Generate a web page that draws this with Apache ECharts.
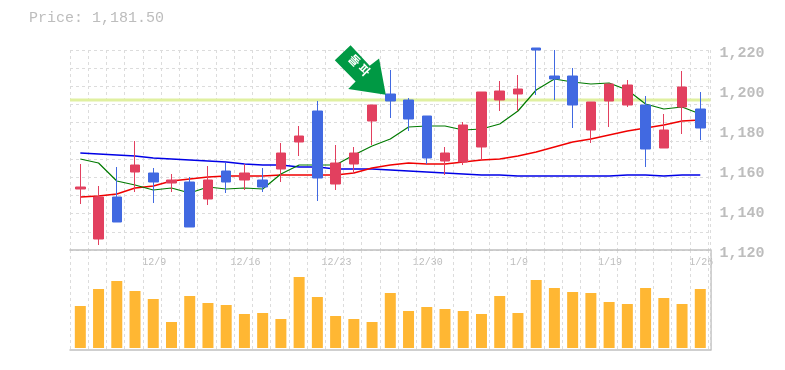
<!DOCTYPE html>
<html><head><meta charset="utf-8">
<style>html,body{margin:0;padding:0;background:#fff}#c{width:785px;height:370px}</style>
<script src="https://cdn.jsdelivr.net/npm/echarts@6/dist/echarts.min.js"></script>
</head><body><div id="c"></div>
<script>
const priceText = 'Price: 1,181.50';
const dateLabels = ['','','','','12/9','','','','','12/16','','','','','12/23','','','','','12/30','','','','','1/9','','','','','1/19','','','','','1/26'];
const priceTicks = [1120,1140,1160,1180,1200,1220];
// open, close, low, high
const candles = [
[1152,1153,1144.5,1164.5],[1127,1148,1124,1153.5],[1148,1135.5,1135.5,1163],[1160.5,1164,1150.5,1176],
[1160,1155.5,1145,1162.5],[1155,1156.5,1150.5,1159.5],[1155.5,1133,1133,1158],[1147,1156.5,1144,1163.5],
[1161,1155.5,1150,1165],[1156.5,1160,1151.5,1164.5],[1156.5,1153,1150.5,1162.5],[1162,1170,1155.5,1175],
[1175.5,1178.5,1168.5,1183.5],[1191,1157.5,1146,1196],[1154.5,1165,1151.5,1174],[1164.5,1170,1159.5,1173],
[1186,1194,1174,1194],[1199.5,1196,1187.5,1211.5],[1196.5,1187,1181,1197.5],[1188.5,1167.5,1164.5,1188.5],
[1166,1170,1159,1173],[1165.5,1184,1164,1185.5],[1173,1200.5,1166.5,1200.5],[1196.5,1201,1191,1206],
[1199.5,1202,1191,1209],[1222.5,1221.5,1199,1222.5],[1208.5,1207,1196.5,1221.5],[1208.5,1194,1182.5,1212.5],
[1181.5,1195.5,1175,1195.5],[1196,1204.5,1183,1204.5],[1194,1204,1193,1206.5],[1194,1172,1163,1198.5],
[1172.5,1181.5,1172.5,1189.5],[1193,1203,1179.5,1211],[1192,1182.5,1176.5,1200.5]];
const maShort = [1167,1165,1156,1154,1151.5,1152.5,1150,1153,1152,1152.5,1152,1159.5,1164,1164,1164,1169,1173.5,1177,1183,1183.5,1183.5,1181.5,1182,1184.5,1191,1201.5,1207,1205.5,1204.5,1205,1201.5,1194.5,1192,1193,1189.5];
const maMid = [1148,1148.5,1149.5,1152.5,1153.5,1156,1157,1158,1158.5,1158.5,1158.5,1159,1159,1159,1159,1160,1162.5,1164,1165,1164.5,1164.5,1165.5,1166.5,1167,1168.5,1170.5,1173,1175.5,1177,1179,1181,1182.5,1184,1186,1186.5];
const maLong = [1170,1169.5,1169,1168.5,1167.5,1167,1166.5,1166,1165.5,1164.5,1164,1164,1163,1163,1162,1162,1162,1161.5,1161,1160.5,1160,1159.5,1159,1159,1158.5,1158.5,1158.5,1158.5,1158.5,1158.5,1159,1159,1158.5,1159,1159];
const volumes = [42,59,67,57,49,26,52,45,43,34,35,29,71,51,32,29,26,55,37,41,39,37,34,52,35,68,60,56,55,46,44,60,50,44,59];
const crossPrice = 1196.5;
const crossIndex = 17;
const arrowText = '돌 파';

const gridC = '#dcdcdc', frameC = '#c0c0c0', textC = '#bdbdbd', crossC = '#e0f0a0';
const mono = '"Liberation Mono","DejaVu Sans Mono",monospace';
const chart = echarts.init(document.getElementById('c'), null, {renderer:'canvas'});
const dash = {show:true, lineStyle:{color:gridC, type:[3,3], width:1}};
const none = {show:false};
chart.setOption({
  animation:false,
  title:{text:priceText,left:24,top:6,textStyle:{fontFamily:mono,fontSize:15,fontWeight:'normal',color:textC}},
  grid:[
    {left:70,width:640.5,top:50,height:200},      // 0 background grid, price pane
    {left:70,width:640.5,top:250,height:100},     // 1 background grid, volume pane + frame
    {left:71.2,width:638.2,top:53,height:200},    // 2 price
    {left:71.2,width:638.2,top:248,height:100},   // 3 volume
    {left:70,width:640.5,top:53,height:200}       // 4 crosshair horizontal + price labels
  ],
  xAxis:[
    {gridIndex:0,type:'value',min:0,max:35.126,interval:1,axisLabel:none,axisTick:none,axisLine:{show:true,onZero:false,lineStyle:{color:frameC,width:1.5}},splitLine:dash,z:1},
    {gridIndex:1,type:'value',min:0,max:35.126,interval:1,axisLabel:none,axisTick:none,axisLine:{show:true,onZero:false,lineStyle:{color:frameC,width:1.5}},splitLine:dash,z:1},
    {gridIndex:2,type:'category',data:dateLabels,boundaryGap:true,axisLine:none,axisTick:none,splitLine:none,
      axisLabel:{interval:0,color:textC,fontFamily:mono,fontSize:10,margin:4,hideOverlap:false,showMinLabel:true,showMaxLabel:true,padding:[0,0,0,2]}},
    {gridIndex:3,type:'category',data:dateLabels,axisLine:none,axisTick:none,axisLabel:none,splitLine:none},
    {gridIndex:4,type:'value',min:0,max:1,axisLine:none,axisTick:none,axisLabel:none,splitLine:none}
  ],
  yAxis:[
    {gridIndex:0,type:'value',min:0,max:11,interval:1,axisLabel:none,axisTick:none,axisLine:none,splitLine:dash,z:1},
    {gridIndex:1,type:'value',position:'right',min:0,max:1,axisLabel:none,axisTick:none,axisLine:{show:true,onZero:false,lineStyle:{color:frameC,width:1.5}},splitLine:none},
    {gridIndex:2,type:'value',min:1120,max:1220,interval:20,scale:false,axisLine:none,axisTick:none,axisLabel:none,splitLine:none},
    {gridIndex:3,type:'value',min:0,max:100,axisLine:none,axisTick:none,axisLabel:none,splitLine:none},
    {gridIndex:4,type:'value',position:'right',min:priceTicks[0],max:priceTicks[priceTicks.length-1],interval:20,axisLine:{show:true,onZero:false,lineStyle:{color:frameC,width:0}},axisTick:none,splitLine:none,
      axisLabel:{color:textC,fontFamily:mono,fontSize:15,fontWeight:'bold',margin:9,padding:[3,0,0,0],formatter:v=>v.toLocaleString('en-US')}}
  ],
  series:[
    {type:'line',xAxisIndex:4,yAxisIndex:4,data:[[0,crossPrice],[1,crossPrice]],symbol:'none',silent:true,lineStyle:{color:crossC,width:3},z:2},
    {type:'line',xAxisIndex:2,yAxisIndex:2,data:maLong,symbol:'none',clip:false,lineStyle:{color:'#0000e6',width:1.4},z:3},
    {type:'line',xAxisIndex:2,yAxisIndex:2,data:maMid,symbol:'none',clip:false,lineStyle:{color:'#f00000',width:1.4},z:3},
    {type:'line',xAxisIndex:2,yAxisIndex:2,data:maShort,symbol:'none',clip:false,lineStyle:{color:'#007a00',width:1.2},z:3},
    {type:'candlestick',xAxisIndex:2,yAxisIndex:2,data:candles,barWidth:10,clip:false,z:5,
      itemStyle:{color:'#e2405f',color0:'#4169e1',borderColor:'#e2405f',borderColor0:'#4169e1',borderWidth:1},
      markLine:{silent:true,symbol:'none',z:2,label:none,lineStyle:{color:crossC,width:3,type:'solid'},
        data:[[{coord:[crossIndex,1221.5]},{coord:[crossIndex,1123.5]}]]},
      markPoint:{silent:true,z:7,data:[{coord:[crossIndex,candles[crossIndex][0]],
        symbol:'path://M75 15 L28 60 L90 125 L68 148 L180 165 L160 55 L132 77 Z',
        symbolKeepAspect:true,symbolSize:[51,50],symbolOffset:[-30,-24],
        itemStyle:{color:'#009944'},
        label:{show:true,formatter:arrowText,color:'#fff',fontSize:12,fontWeight:'bold',rotate:-45,position:'inside',offset:[-4,-3],fontFamily:'"Noto Sans CJK KR"'}}]}},
    {type:'bar',xAxisIndex:3,yAxisIndex:3,data:volumes,barWidth:11,itemStyle:{color:'#ffb733'},z:4}
  ]
});
</script></body></html>
